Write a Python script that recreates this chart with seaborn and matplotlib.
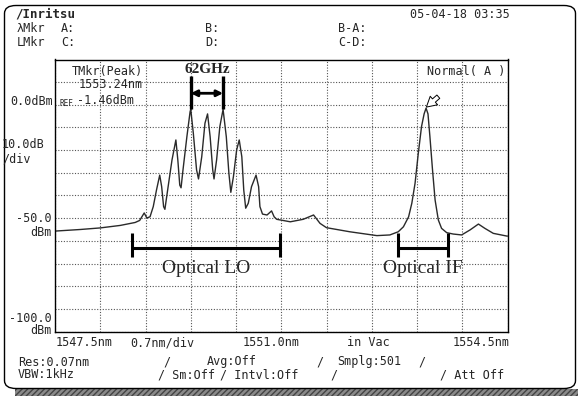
import numpy as np
import pandas as pd
import matplotlib
matplotlib.use("Agg")
import matplotlib.pyplot as plt
from matplotlib.patches import FancyBboxPatch, Rectangle
import seaborn as sns

# trace (wavelength nm, level dBm)
wavelength = [1547.50, 1547.89, 1548.20, 1548.51, 1548.74, 1548.81, 1548.88, 1548.92,
              1548.97, 1549.02, 1549.07, 1549.12, 1549.15, 1549.18, 1549.20, 1549.25,
              1549.31, 1549.37, 1549.40, 1549.43, 1549.45, 1549.48, 1549.54, 1549.59,
              1549.60, 1549.64, 1549.69, 1549.72, 1549.77, 1549.82, 1549.86, 1549.90,
              1549.94, 1549.96, 1550.00, 1550.05, 1550.10, 1550.15, 1550.19, 1550.22,
              1550.26, 1550.31, 1550.35, 1550.39, 1550.42, 1550.45, 1550.49, 1550.54,
              1550.61, 1550.65, 1550.67, 1550.71, 1550.78, 1550.85, 1550.89, 1550.93,
              1551.14, 1551.34, 1551.50, 1551.60, 1551.70, 1552.06, 1552.48, 1552.68,
              1552.81, 1552.89, 1552.97, 1553.02, 1553.07, 1553.12, 1553.17, 1553.21,
              1553.24, 1553.27, 1553.30, 1553.34, 1553.38, 1553.43, 1553.48, 1553.56,
              1553.66, 1553.79, 1553.92, 1554.05, 1554.15, 1554.28, 1554.49, 1554.50]
level = [-55.7, -55.0, -54.3, -53.2, -51.9, -51.0, -47.7, -49.9,
         -49.4, -44.9, -37.6, -31.0, -36.1, -44.9, -46.1, -36.1,
         -24.3, -15.5, -24.3, -35.4, -36.6, -28.7, -14.1, -3.0,
         -2.0, -12.6, -28.7, -32.7, -22.9, -8.1, -4.0, -14.1,
         -28.7, -32.7, -24.3, -9.6, -2.0, -14.1, -30.2, -38.6,
         -31.7, -19.9, -15.5, -22.9, -37.6, -45.6, -43.4, -36.1,
         -31.0, -36.1, -44.9, -48.2, -48.6, -46.8, -49.4, -50.5,
         -51.6, -50.5, -48.6, -52.3, -54.2, -56.0, -57.7, -57.4,
         -56.0, -53.8, -49.4, -43.4, -34.6, -21.4, -9.6, -4.0,
         -1.46, -4.0, -14.1, -28.7, -42.0, -50.8, -54.5, -56.4,
         -57.0, -57.4, -55.2, -52.6, -54.5, -56.7, -57.9, -57.9]

# annotation spans
lo_span = [1548.69, 1550.98]
if_span = [1552.81, 1553.58]
spacing_pair = [1549.60, 1550.10]

df = pd.DataFrame({"wl": wavelength, "dbm": level})

W, H = 578, 396
sns.set_style("white")
mono = "DejaVu Sans Mono"
serif = "Liberation Serif"

fig = plt.figure(figsize=(W / 100, H / 100), dpi=100)
ax = fig.add_axes([55 / W, 1 - 331.5 / H, 452.5 / W, 272 / H])

sns.lineplot(data=df, x="wl", y="dbm", ax=ax, color="#2a2a2a", lw=1.0, legend=False)

ax.set_xlim(1547.5, 1554.5)
ax.set_ylim(-100, 20)
ax.set_xticks(np.arange(1547.5, 1554.51, 0.7))
ax.set_yticks(np.arange(-100, 21, 10))
ax.tick_params(length=0, labelbottom=False, labelleft=False)
ax.set_xlabel("")
ax.set_ylabel("")
ax.grid(True, ls=(0, (1, 1.5)), color="#555555", lw=0.8)
for s in ax.spines.values():
    s.set_color("black")
    s.set_linewidth(1.0)

# 62GHz marker
for x in spacing_pair:
    ax.plot([x, x], [12.5, -2.0], color="black", lw=2.4, solid_capstyle="butt")
ax.annotate("", xy=(spacing_pair[0], 5.1), xytext=(spacing_pair[1], 5.1),
            arrowprops=dict(arrowstyle="<|-|>", color="black", lw=2.0,
                            mutation_scale=9, shrinkA=0, shrinkB=0))
ax.text(np.mean(spacing_pair), 15.4, "62GHz", family=serif, weight="bold",
        fontsize=11, ha="center", va="center")

# LO / IF spans
for span, lab, ty in [(lo_span, "Optical LO", -72.0), (if_span, "Optical IF", -72.4)]:
    ax.plot(span, [-63.0, -63.0], color="black", lw=2.2)
    for x in span:
        ax.plot([x, x], [-56.6, -67.0], color="black", lw=2.2, solid_capstyle="butt")
    ax.text(np.mean(span), ty, lab, family=serif, fontsize=14, ha="center", va="center")

# peak marker arrow (hollow)
ax.annotate("", xy=(1553.245, -1.0), xytext=(1553.43, 3.6),
            arrowprops=dict(arrowstyle="simple,head_width=0.9,head_length=0.8,tail_width=0.35",
                            mutation_scale=9, fc="white", ec="black", lw=0.7,
                            shrinkA=0, shrinkB=0))


def txt(x, y, s, size=8.5, **kw):
    fig.text(x / W, 1 - y / H, s, family=mono, fontsize=size, va="center", **kw)


# header
txt(15, 14, "/Inritsu", size=9, weight="bold")
txt(510, 15, "05-04-18 03:35", ha="right")
for y, a, b, c, d in [(29, "\u03bbMkr", "A:", "B:", "B-A:"), (43, "LMkr", "C:", "D:", "C-D:")]:
    txt(17, y, a)
    txt(61, y, b)
    txt(205, y, c)
    txt(338, y, d)

# inside plot text
txt(72, 71, "TMkr(Peak)")
txt(143, 85, "1553.24nm", ha="right")
txt(59, 103.5, "REF", size=5.5)
txt(134, 101, "-1.46dBm", ha="right")
txt(505, 72, "Normal( A )", ha="right")

# left scale
txt(53, 101.5, "0.0dBm", ha="right")
txt(2, 145, "10.0dB")
txt(2, 159, "/div")
txt(52, 219, "-50.0", ha="right")
txt(52, 232, "dBm", ha="right")
txt(52, 318, "-100.0", ha="right")
txt(52, 331, "dBm", ha="right")

# bottom scale
txt(56, 343, "1547.5nm")
txt(130, 343, "0.7nm/div")
txt(243, 343, "1551.0nm")
txt(347, 343, "in Vac")
txt(453, 343, "1554.5nm")

# settings rows
txt(18, 362, "Res:0.07nm")
txt(163, 362, "/")
txt(207, 362, "Avg:Off")
txt(316, 362, "/")
txt(337, 362, "Smplg:501")
txt(418, 362, "/")
txt(18, 375, "VBW:1kHz")
txt(158, 375, "/ Sm:Off")
txt(220, 375, "/ Intvl:Off")
txt(330, 375, "/")
txt(440, 375, "/ Att Off")

# screen frame with shadow
fig.patches.append(Rectangle((15 / W, 0), 1 - 15 / W, 7 / H, transform=fig.transFigure,
                             facecolor="#8a8a8a", edgecolor="#444444", hatch="//////", lw=0))
fig.patches.append(FancyBboxPatch((4.5 / W, 7.5 / H), 571 / W, 383 / H,
                                  boxstyle="round,pad=0,rounding_size=0.02",
                                  transform=fig.transFigure, facecolor="none",
                                  edgecolor="black", lw=1.0))

fig.savefig("out.png", dpi=100)
